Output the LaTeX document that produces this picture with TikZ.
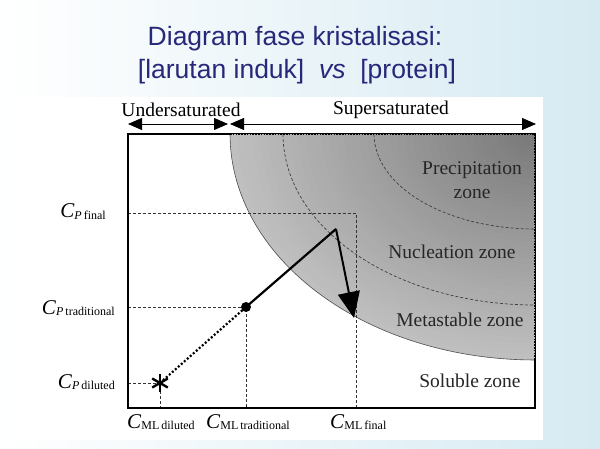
\documentclass[tikz,border=0pt]{standalone}
\usepackage{fontspec}
\setmainfont{Liberation Serif}
\newfontfamily\titlefont{Liberation Sans}
\usetikzlibrary{arrows.meta}
\definecolor{navy}{RGB}{40,40,122}
\definecolor{bgblue}{RGB}{214,234,242}
\newcommand{\cpl}[1]{{\fontsize{21}{21}\selectfont\textit{C}}\raisebox{-0.3ex}{\fontsize{12}{12}\selectfont\textit{P}\,#1}}
\newcommand{\cml}[1]{{\fontsize{21}{21}\selectfont\textit{C}}\raisebox{-0.3ex}{\fontsize{12}{12}\selectfont ML\,#1}}
\begin{document}
\begin{tikzpicture}[x=1pt,y=-1pt,
  guide/.style={line width=0.8pt, black!80, dash pattern=on 3pt off 2pt},
  zonearc/.style={line width=0.7pt, black!75, dash pattern=on 3pt off 2pt},
  zonelbl/.style={font=\fontsize{19.5}{24}\selectfont, text=black!85, align=center, inner sep=0pt},
  toplbl/.style={font=\fontsize{19.5}{24}\selectfont, inner sep=0pt},
  axlbl/.style={inner sep=0pt},
  rangearrow/.style={line width=0.8pt, {Triangle[length=14pt,width=12pt]}-{Triangle[length=14pt,width=12pt]}},
]
\useasboundingbox (0,0) rectangle (600,449);
\shade[left color=white, right color=bgblue] (0,0) rectangle (600,449);
\fill[white] (15,97) rectangle (543,440);

% frame coordinates
\coordinate (TL) at (128,134);
\coordinate (TR) at (535,134);
\coordinate (BR) at (535,408);
\coordinate (BL) at (128,408);
\coordinate (S0) at (230,134);
\coordinate (S1) at (535,360);

% shaded supersaturated region: concentric quarter ellipses, light outside, dark inside
\foreach \i in {0,...,39}{
  \pgfmathsetmacro{\t}{1-\i/40}
  \pgfmathsetmacro{\g}{25+28*\i/40}
  \fill[black!\g] (535,134) -- plot[domain=0:90,samples=40] ({535-305*\t*cos(\x)},{134+226*\t*sin(\x)}) -- cycle;
}
\draw[line width=0.6pt, black!70] plot[domain=0:90,samples=60] ({535-305*cos(\x)},{134+226*sin(\x)});
\draw[zonearc] plot[domain=0:90,samples=50] ({535-252*cos(\x)},{134+171*sin(\x)});
\draw[zonearc] plot[domain=0:90,samples=40] ({535-161*cos(\x)},{134+95*sin(\x)});

% guide lines
\coordinate (pf) at (128,213); \coordinate (cf) at (356,213); \coordinate (mf) at (356,408);
\coordinate (pt) at (128,307); \coordinate (dot) at (246,307); \coordinate (mt) at (246,408);
\coordinate (pd) at (128,383); \coordinate (ast) at (160,383); \coordinate (md) at (160,408);
\draw[guide] (pf) -- (cf) -- (mf);
\draw[guide] (pt) -- (dot) -- (mt);
\draw[guide] (pd) -- (ast) -- (md);

% frame
\draw[line width=1pt] (S0) -- (TR) -- (S1);
\draw[line width=2.4pt, dash pattern=on 1.6pt off 1.2pt] (S0) -- (TR) -- (S1);
\draw[line width=2.2pt, line join=miter] (S0) -- (TL) -- (BL) -- (BR) -- (S1);

% path of the experiment
\coordinate (peak) at (336,229);
\coordinate (tip) at (354,318);
\draw[line width=2.2pt, dash pattern=on 2pt off 2pt] (ast) -- (dot);
\draw[line width=2.2pt] (dot) -- (peak);
\draw[line width=2pt, -{Triangle[length=26pt,width=22pt]}] (peak) -- (tip);
\fill (dot) circle (5pt);
\foreach \a in {90,30,150} \draw[line width=2.4pt] (ast) ++(\a:9pt) -- ++(\a+180:18pt);

% range arrows
\coordinate (u0) at (128,124); \coordinate (u1) at (228,124);
\coordinate (s0) at (230,124); \coordinate (s1) at (536,124);
\draw[rangearrow] (u0) -- (u1);
\draw[rangearrow] (s0) -- (s1);
\node[toplbl] (under) at (181,110) {Undersaturated};
\node[toplbl] (super) at (391,110) {Supersaturated};

% zone labels
\node[zonelbl] (precip) at (472,180) {Precipitation\\zone};
\node[zonelbl] (nucl) at (452,252) {Nucleation zone};
\node[zonelbl] (meta) at (460,320) {Metastable zone};
\node[zonelbl] (sol) at (470,381) {Soluble zone};

% axis labels
\node[axlbl, anchor=base east] (lpf) at (106,218) {\cpl{final}};
\node[axlbl, anchor=base east] (lpt) at (115,314) {\cpl{traditional}};
\node[axlbl, anchor=base east] (lpd) at (115,388) {\cpl{diluted}};
\node[axlbl, anchor=base west] (lmd) at (127,428) {\cml{diluted}};
\node[axlbl, anchor=base west] (lmt) at (206,428) {\cml{traditional}};
\node[axlbl, anchor=base west] (lmf) at (330,428) {\cml{final}};

% title
\node[font=\titlefont\fontsize{26.5}{33}\selectfont, text=navy, anchor=base, inner sep=0pt] (t1) at (295,46) {Diagram fase kristalisasi:};
\node[font=\titlefont\fontsize{26.5}{33}\selectfont, text=navy, anchor=base, inner sep=0pt] (t2) at (297,79) {[larutan induk]\ \ \textit{vs}\ \ [protein]};
\end{tikzpicture}
\end{document}
